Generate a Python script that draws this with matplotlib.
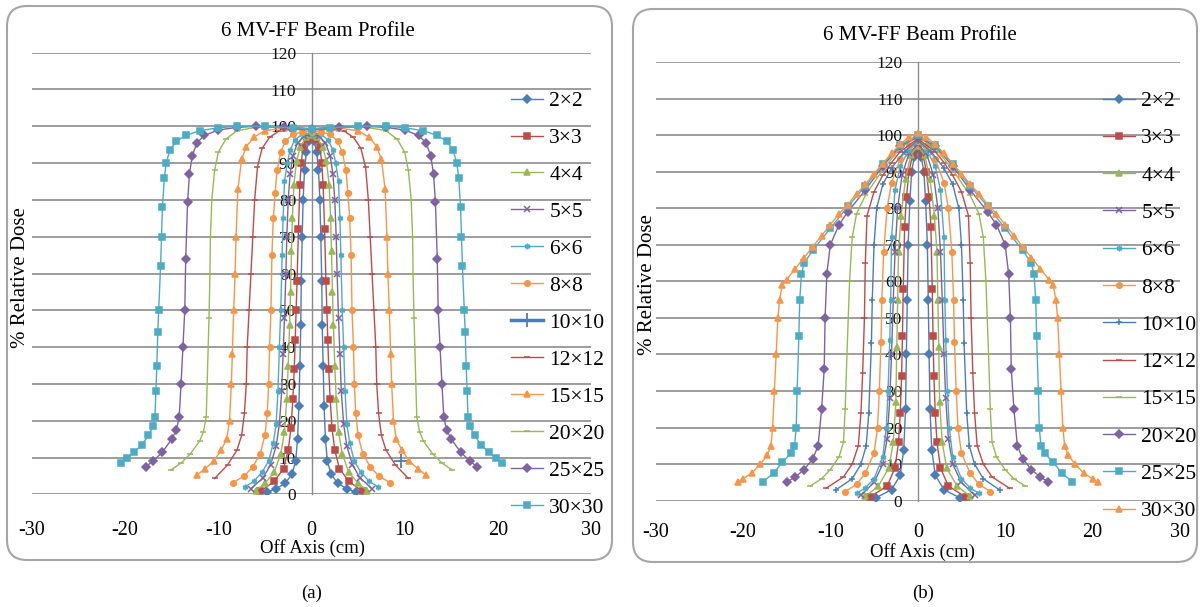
import matplotlib
matplotlib.use("Agg")
import matplotlib.pyplot as plt
from matplotlib.patches import FancyBboxPatch

plt.rcParams['font.family'] = ['Liberation Serif', 'DejaVu Serif']
plt.rcParams['axes.unicode_minus'] = False

LABELS = ['2×2', '3×3', '4×4', '5×5', '6×6', '8×8', '10×10', '12×12',
          '15×15', '20×20', '25×25', '30×30']
TITLE = '6 MV-FF Beam Profile'
X_TICKS = [-30, -20, -10, 0, 10, 20, 30]
Y_TICKS = [0, 10, 20, 30, 40, 50, 60, 70, 80, 90, 100, 110, 120]

# ---- panel (a): half profiles (off-axis cm, % dose) ----
a_x_2 = [0, 0.3, 0.55, 0.75, 0.9, 1.0, 1.1, 1.15, 1.25, 1.35, 1.5, 1.7, 2.1, 2.8, 3.8, 4.8]
a_y_2 = [96.5, 96, 93, 88, 80, 70, 58, 46, 35, 24, 15, 9, 5.5, 3, 1.5, 0.6]
a_x_3 = [0, 0.5, 0.9, 1.1, 1.25, 1.4, 1.55, 1.65, 1.75, 1.85, 2.0, 2.2, 2.5, 3.0, 4.0, 5.5]
a_y_3 = [97, 96.5, 94.5, 90, 84, 72, 58, 50, 42, 34, 26, 18, 12, 7, 3.5, 0.8]
a_x_4 = [0, 0.6, 1.2, 1.6, 1.9, 2.05, 2.15, 2.25, 2.35, 2.5, 2.65, 2.9, 3.3, 4.0, 5.0, 6.0]
a_y_4 = [97.5, 97, 94.5, 90.5, 84, 75, 66, 55, 46, 35, 26, 17, 11, 6, 3, 1]
a_x_5 = [0, 0.8, 1.5, 2.0, 2.3, 2.5, 2.65, 2.75, 2.9, 3.05, 3.2, 3.45, 3.8, 4.4, 5.2, 6.5]
a_y_5 = [97.8, 97.3, 95.5, 92, 87, 80, 70, 60, 48, 38, 28, 19, 13, 8, 4.5, 1.5]
a_x_6 = [0, 1.0, 1.8, 2.3, 2.6, 2.9, 3.05, 3.15, 3.3, 3.45, 3.6, 3.8, 4.1, 4.6, 5.3, 6.2, 7.1]
a_y_6 = [98, 97.8, 96.3, 93.5, 90, 85, 75, 65, 50, 40, 28, 19, 14, 9, 6, 3.5, 2.1]
a_x_8 = [0, 1.0, 2.0, 2.8, 3.3, 3.7, 3.9, 4.1, 4.25, 4.35, 4.5, 4.6, 4.75, 5.0, 5.5, 6.3, 7.2, 8.4]
a_y_8 = [98.5, 98.5, 97.8, 96, 93, 88, 82, 75, 65, 50, 40, 30, 22, 16, 11, 7.5, 5, 3.2]
a_x_10 = [9.6]
a_y_10 = [9.0]
a_x_12 = [0, 2.0, 3.5, 4.5, 5.3, 5.8, 6.1, 6.3, 6.5, 6.7, 6.9, 7.0, 7.2, 7.5, 8.0, 9.0, 10.4]
a_y_12 = [99, 99.2, 98.7, 97, 94, 89, 80, 70, 60, 50, 40, 30, 22, 16, 12, 8, 4.3]
a_x_15 = [0, 3.0, 5.0, 6.2, 7.0, 7.5, 7.9, 8.1, 8.2, 8.35, 8.5, 8.6, 8.8, 9.1, 9.7, 10.5, 11.4, 12.3]
a_y_15 = [99.3, 99.5, 98.8, 97, 94.5, 91, 83, 70, 60, 50, 38, 30, 20, 15, 12, 9, 7, 5.2]
a_x_20 = [0, 3.0, 6.0, 8.0, 9.2, 10.0, 10.4, 10.7, 10.85, 10.9, 11.0, 11.2, 11.3, 11.6, 12.0, 13.0, 14.0, 15.1]
a_y_20 = [99.3, 99.8, 99.7, 98.8, 96.5, 93, 88, 80, 70, 60, 48, 30, 21, 17, 14.5, 11, 8.5, 6.6]
a_x_25 = [0, 3.0, 6.0, 8.0, 10.0, 11.5, 12.3, 12.8, 13.1, 13.3, 13.5, 13.6, 13.8, 14.0, 14.2, 14.5, 15.0, 16.0, 17.0, 17.8]
a_y_25 = [99.3, 99.8, 100, 99.7, 99, 97.5, 95.5, 92, 87, 79.5, 64, 50, 40, 30, 21, 17.5, 15, 11.5, 9, 7.5]
a_x_30 = [0, 2.0, 5.0, 8.0, 10.0, 12.0, 13.5, 14.5, 15.2, 15.6, 15.8, 16.0, 16.1, 16.2, 16.4, 16.5,
          16.6, 16.7, 16.8, 17.0, 17.5, 18.2, 19.0, 19.8, 20.5]
a_y_30 = [99.3, 99.6, 100, 100, 99.6, 98.8, 97.5, 96, 93.5, 90, 86, 78, 70, 62, 50, 44,
          35, 28, 21, 18.5, 16, 13.5, 11.5, 9.8, 8.4]

# ---- panel (b) ----
b_x_2 = [0, 0.4, 0.7, 0.9, 1.1, 1.2, 1.3, 1.4, 1.6, 2.0, 3.0, 4.8]
b_y_2 = [96, 94, 90, 82, 70, 55, 40, 25, 14, 7, 3, 0.8]
b_x_3 = [0, 0.6, 1.0, 1.3, 1.5, 1.66, 1.75, 1.85, 2.0, 2.2, 2.6, 3.5, 5.5]
b_y_3 = [96.5, 94.5, 90, 83, 75, 58, 45, 34, 24, 16, 9, 4, 1]
b_x_4 = [0, 0.8, 1.4, 1.9, 2.2, 2.3, 2.4, 2.5, 2.8, 3.3, 4.5, 6.0]
b_y_4 = [97, 94.5, 88, 78, 68, 55, 42, 27, 16, 9, 4, 1.2]
b_x_5 = [0, 1.0, 1.8, 2.3, 2.6, 2.8, 3.0, 3.2, 3.5, 4.0, 5.0, 6.5]
b_y_5 = [97.5, 95, 89, 80, 68, 55, 40, 28, 17, 10, 5, 1.5]
b_x_6 = [0, 1.0, 2.0, 2.6, 3.0, 3.1, 3.2, 3.4, 3.6, 4.0, 5.0, 6.0, 7.0]
b_y_6 = [98, 96, 91.5, 85, 72, 55, 44, 30, 20, 12, 6, 3.5, 2]
b_x_8 = [0, 1.0, 2.0, 3.0, 3.5, 3.9, 4.1, 4.2, 4.4, 4.6, 5.0, 6.0, 7.0, 8.3]
b_y_8 = [98.5, 97, 93.5, 87, 80, 68, 55, 43.5, 30, 20, 13, 7.5, 4.5, 2.5]
b_x_10 = [0, 1.5, 3.0, 4.0, 4.7, 5.0, 5.2, 5.3, 5.6, 5.9, 6.5, 7.5, 9.4]
b_y_10 = [98.5, 95.5, 91, 86.5, 80, 70, 55, 43, 24, 15, 10, 6, 2.9]
b_x_12 = [0, 2.0, 3.0, 4.0, 5.0, 5.8, 6.0, 6.1, 6.3, 6.5, 6.8, 7.5, 8.5, 10.5]
b_y_12 = [99, 95.5, 92.5, 89, 84.5, 78, 65, 50, 35, 24, 15, 10, 6.5, 3.4]
b_x_15 = [0, 2.0, 4.0, 6.0, 7.0, 7.5, 7.8, 8.1, 8.3, 8.5, 9.0, 10.0, 11.0, 12.3]
b_y_15 = [99.5, 96.5, 90.5, 83.5, 78.5, 72, 60, 40, 25, 16, 12, 8.5, 6, 4]
b_x_20 = [0, 2.0, 4.0, 6.0, 8.0, 9.0, 10.0, 10.4, 10.6, 10.7, 11.0, 11.4, 12.0, 13.0, 14.0, 14.9]
b_y_20 = [99.5, 97, 91.5, 85, 79, 75.5, 70, 62, 50, 36, 25, 15, 11.5, 8.5, 6.5, 5.2]
b_x_25 = [0, 2.0, 4.0, 6.0, 8.0, 10.0, 12.0, 13.0, 13.3, 13.5, 13.6, 13.8, 13.9, 14.1, 14.5,
          15.5, 16.5, 17.7]
b_y_25 = [100, 97.3, 92, 86, 80.5, 74.5, 68.5, 65, 62, 55, 45, 30, 20, 15, 13, 10.5, 7.5, 5.2]
b_x_30 = [0, 1.0, 2.0, 3.0, 4.0, 5.0, 6.0, 7.0, 8.0, 9.0, 10.0, 11.0, 12.0, 13.0, 14.0, 15.0,
          15.5, 15.8, 16.0, 16.2, 16.4, 16.6, 16.8, 17.2, 18.0, 19.0, 20.0, 20.6]
b_y_30 = [100.5, 99.5, 97.5, 95, 92.2, 89.5, 86.5, 84, 81, 78.5, 75.5, 72.5, 69.5, 66.5, 63.5, 60.5,
          59, 55, 50, 40, 30, 20, 15, 12.5, 10, 7.5, 6, 5]

A_DATA = [(a_x_2, a_y_2), (a_x_3, a_y_3), (a_x_4, a_y_4), (a_x_5, a_y_5), (a_x_6, a_y_6),
          (a_x_8, a_y_8), (a_x_10, a_y_10), (a_x_12, a_y_12), (a_x_15, a_y_15),
          (a_x_20, a_y_20), (a_x_25, a_y_25), (a_x_30, a_y_30)]
B_DATA = [(b_x_2, b_y_2), (b_x_3, b_y_3), (b_x_4, b_y_4), (b_x_5, b_y_5), (b_x_6, b_y_6),
          (b_x_8, b_y_8), (b_x_10, b_y_10), (b_x_12, b_y_12), (b_x_15, b_y_15),
          (b_x_20, b_y_20), (b_x_25, b_y_25), (b_x_30, b_y_30)]

BLUE, RED, GREEN = '#4A7EBB', '#BE4B48', '#98B954'
PURPLE, TEAL, ORANGE = '#7E62A1', '#4BACC6', '#F79646'
STAR = (6, 2, 0)

A_STYLE = [(BLUE, 'D'), (RED, 's'), (GREEN, '^'), (PURPLE, 'x'), (TEAL, STAR), (ORANGE, 'o'),
           (BLUE, '+'), (RED, '_'), (ORANGE, '^'), (GREEN, '_'), (PURPLE, 'D'), (TEAL, 's')]
B_STYLE = [(BLUE, 'D'), (RED, 's'), (GREEN, '^'), (PURPLE, 'x'), (TEAL, STAR), (ORANGE, 'o'),
           (BLUE, '+'), (RED, '_'), (GREEN, '_'), (PURPLE, 'D'), (TEAL, 's'), (ORANGE, '^')]

W, H = 1200, 607


def mirror(xs, ys):
    # profiles are read as one half; the left side is the same read values
    if len(xs) == 1:
        return xs, ys
    fx = [-v for v in reversed(xs)] + list(xs[1:])
    fy = list(reversed(ys)) + list(ys[1:])
    return fx, fy


def draw_panel(fig, rect, data, styles, thick10, legend_xy, spacing, xpad):
    ax = fig.add_axes(rect)
    ax.set_xlim(-30, 30)
    ax.set_ylim(0, 120)
    for i, ((xs, ys), (c, m)) in enumerate(zip(data, styles)):
        fx, fy = mirror(xs, ys)
        lw, ms, mew = 1.0, 4.0, 1.1
        if i == 6 and thick10:
            lw, ms, mew = 2.5, 10, 1.3
        ax.plot(fx, fy, color=c, lw=lw, marker=m, ms=ms, mew=mew,
                label=LABELS[i], zorder=3 + i)
    ax.set_facecolor('none')
    for s in ['top', 'right', 'bottom']:
        ax.spines[s].set_visible(False)
    ax.spines['left'].set_position(('data', 0))
    ax.spines['left'].set_color('#8C8C8C')
    ax.spines['left'].set_linewidth(1.0)
    ax.set_yticks(Y_TICKS)
    ax.set_xticks(X_TICKS)
    ax.tick_params(axis='y', length=0, pad=11, labelsize=12.5, labelcolor='#111111')
    ax.tick_params(axis='x', length=0, pad=xpad, labelsize=14.5)
    ax.yaxis.grid(True, color='#8C8C8C', lw=1.2)
    ax.set_axisbelow(True)
    ax.legend(loc='upper left', bbox_to_anchor=legend_xy, bbox_transform=fig.transFigure,
              frameon=False, fontsize=15.5, borderpad=0, borderaxespad=0,
              handlelength=1.5, handletextpad=0.28, labelspacing=spacing, numpoints=1)
    return ax


fig = plt.figure(figsize=(W / 100, H / 100), dpi=100)

bg = fig.add_axes([0, 0, 1, 1])
bg.set_xlim(0, W)
bg.set_ylim(H, 0)
bg.axis('off')
for x0, y0, x1, y1 in [(7, 6, 612, 560), (633, 9, 1197, 562)]:
    bg.add_patch(FancyBboxPatch((x0, y0), x1 - x0, y1 - y0,
                                boxstyle='round,pad=0,rounding_size=20',
                                fc='none', ec='#A6A6A6', lw=1.5))

# panel (a)
draw_panel(fig, [32 / W, 1 - 494.3 / H, 559 / W, 441.6 / H], A_DATA, A_STYLE, True,
           (511 / W, 1 - 91 / H), 0.785, 19)
bg.text(318, 32, TITLE, ha='center', va='center', fontsize=15)
bg.text(312, 548, 'Off Axis (cm)', ha='center', va='center', fontsize=13.5)
bg.text(21, 278, '% Relative Dose', ha='center', va='center', rotation=90, fontsize=15)
bg.text(312, 593, '(a)', ha='center', va='center', fontsize=13.5)

# panel (b)
draw_panel(fig, [655.5 / W, 1 - 500.7 / H, 524.5 / W, 438.7 / H], B_DATA, B_STYLE, False,
           (1103 / W, 1 - 91 / H), 0.80, 16)
bg.text(919.5, 35, TITLE, ha='center', va='center', fontsize=15)
bg.text(923, 552, 'Off Axis (cm)', ha='center', va='center', fontsize=13.5)
bg.text(648, 285, '% Relative Dose', ha='center', va='center', rotation=90, fontsize=15)
bg.text(923, 593, '(b)', ha='center', va='center', fontsize=13.5)

fig.savefig('out.png', dpi=100)
